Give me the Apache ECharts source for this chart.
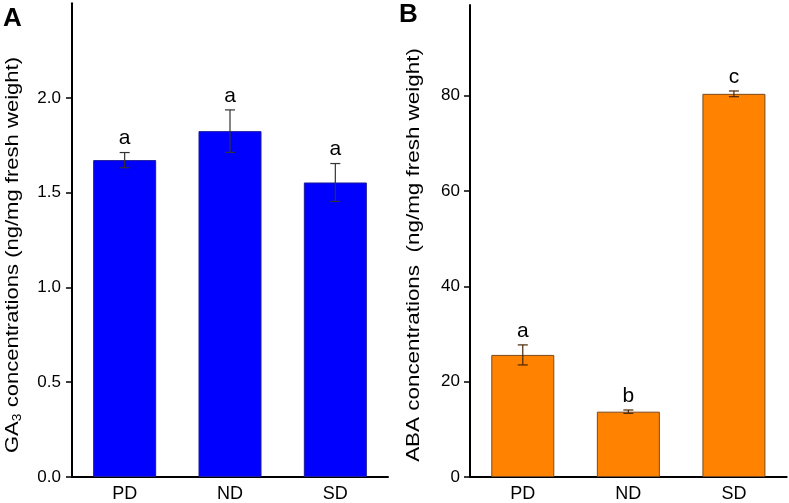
<!DOCTYPE html>
<html>
<head>
<meta charset="utf-8">
<script src="https://cdn.jsdelivr.net/npm/echarts@6/dist/echarts.min.js"></script>
<style>
html,body{margin:0;padding:0;background:#fff;}
#c{width:789px;height:503px;}
</style>
</head>
<body>
<div id="c"></div>
<script>
// ---- data ----
var categories = ['PD', 'ND', 'SD'];
var gaMean = [1.672, 1.825, 1.554];
var gaErr = [0.040, 0.112, 0.100];
var gaLetters = ['a', 'a', 'a'];
var abaMean = [25.6, 13.7, 80.35];
var abaErr = [2.1, 0.35, 0.6];
var abaLetters = ['a', 'b', 'c'];
var gaTicks = [0, 0.5, 1.0, 1.5, 2.0];
var abaTicks = [0, 20, 40, 60, 80];

var FONT = 'Arial, "Liberation Sans", sans-serif';

function errData(mean, err, letters) {
  return mean.map(function (m, i) { return [i, m - err[i], m + err[i], letters[i]]; });
}

function errRender(color) {
  return function (params, api) {
    var x = api.value(0);
    var lo = api.coord([x, api.value(1)]);
    var hi = api.coord([x, api.value(2)]);
    var cw = 5;
    var st = { stroke: color, lineWidth: 1.2 };
    return {
      type: 'group',
      children: [
        { type: 'line', shape: { x1: lo[0], y1: lo[1], x2: hi[0], y2: hi[1] }, style: st },
        { type: 'line', shape: { x1: hi[0] - cw, y1: hi[1], x2: hi[0] + cw, y2: hi[1] }, style: st },
        { type: 'line', shape: { x1: lo[0] - cw, y1: lo[1], x2: lo[0] + cw, y2: lo[1] }, style: st },
        { type: 'text', x: hi[0], y: hi[1] - 14,
          style: { text: api.value(3), fill: '#000', font: '21px ' + FONT, align: 'center', verticalAlign: 'middle' } }
      ]
    };
  };
}

function xAxisCfg(gi) {
  return {
    type: 'category', gridIndex: gi, data: categories,
    axisLine: { lineStyle: { color: '#000', width: 2 } },
    axisTick: { alignWithLabel: true, length: 5, lineStyle: { color: '#000', width: 1.5 } },
    axisLabel: { color: '#000', fontSize: 18, fontFamily: FONT, margin: 8 }
  };
}
function yAxisCfg(gi, max, ticks, fmt, margin) {
  return {
    type: 'value', gridIndex: gi, min: 0, max: max,
    axisLine: { show: true, lineStyle: { color: '#000', width: 2 } },
    axisTick: { show: true, length: 6, customValues: ticks, lineStyle: { color: '#000', width: 1.5 } },
    axisLabel: { color: '#000', fontSize: 17, fontFamily: FONT, margin: margin, customValues: ticks, formatter: fmt },
    splitLine: { show: false }
  };
}

var chart = echarts.init(document.getElementById('c'), null, { renderer: 'canvas' });
chart.setOption({
  backgroundColor: '#fff',
  animation: false,
  grid: [
    { left: 72, width: 316, top: 3.2, bottom: 25.3 },
    { left: 470, width: 316.7, top: 4.9, bottom: 25.3 }
  ],
  xAxis: [xAxisCfg(0), xAxisCfg(1)],
  yAxis: [
    yAxisCfg(0, 2.5, gaTicks, function (v) { return v.toFixed(1); }, 11),
    yAxisCfg(1, 99, abaTicks, function (v) { return String(v); }, 10)
  ],
  series: [
    { type: 'bar', xAxisIndex: 0, yAxisIndex: 0, data: gaMean, barWidth: 63,
      itemStyle: { color: '#0000ff', borderColor: '#1a1a9a', borderWidth: 1 } },
    { type: 'custom', xAxisIndex: 0, yAxisIndex: 0, data: errData(gaMean, gaErr, gaLetters),
      renderItem: errRender('#333333'), z: 5 },
    { type: 'bar', xAxisIndex: 1, yAxisIndex: 1, data: abaMean, barWidth: 63,
      itemStyle: { color: '#ff8200', borderColor: '#7a4a1e', borderWidth: 1 } },
    { type: 'custom', xAxisIndex: 1, yAxisIndex: 1, data: errData(abaMean, abaErr, abaLetters),
      renderItem: errRender('#4a2608'), z: 5 }
  ],
  graphic: [
    { type: 'text', left: 3, top: 6, style: { text: 'A', fill: '#000', font: 'bold 26px ' + FONT } },
    { type: 'text', left: 399, top: 2, style: { text: 'B', fill: '#000', font: 'bold 26px ' + FONT } },
    { type: 'text', x: 13, y: 255, rotation: Math.PI / 2, scaleX: 1.16,
      style: {
        text: '{n|GA}{s|3}{n| concentrations (ng/mg fresh weight)}',
        align: 'center', verticalAlign: 'middle', fill: '#000',
        rich: {
          n: { fontSize: 19, fontFamily: FONT, fill: '#000', lineHeight: 22, verticalAlign: 'middle' },
          s: { fontSize: 12, fontFamily: FONT, fill: '#000', lineHeight: 22, verticalAlign: 'bottom', padding: [8, 0, 0, 0] }
        }
      } },
    { type: 'text', x: 413.5, y: 255, rotation: Math.PI / 2, scaleX: 1.18,
      style: {
        text: 'ABA concentrations  (ng/mg fresh weight)',
        align: 'center', verticalAlign: 'middle', fill: '#000', font: '19px ' + FONT
      } }
  ]
});
</script>
</body>
</html>
